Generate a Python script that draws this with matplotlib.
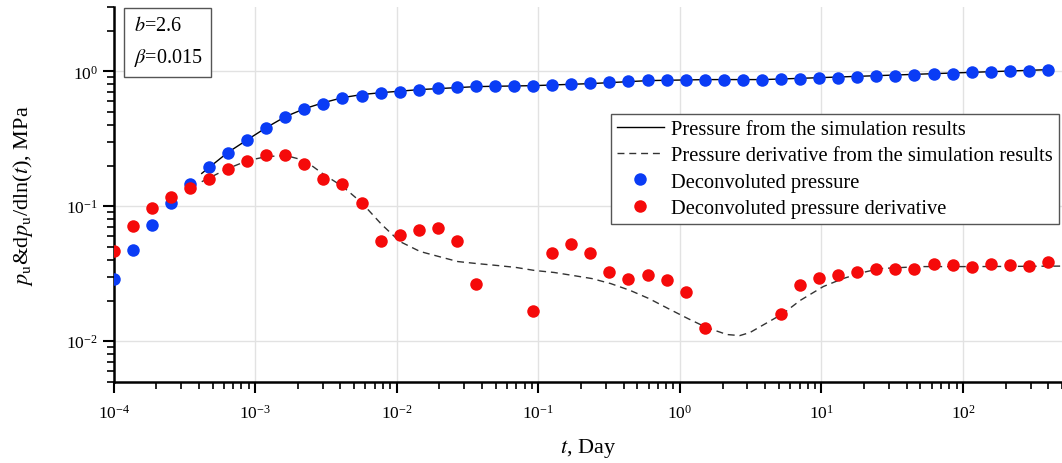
import numpy as np
import matplotlib
matplotlib.use("Agg")
import matplotlib.pyplot as plt
from matplotlib.ticker import LogLocator, NullFormatter

plt.rcParams['font.family'] = ['Liberation Serif', 'DejaVu Serif']
plt.rcParams['mathtext.fontset'] = 'stix'

# deconvolution time grid (day)
t_dec = [1.00e-4, 1.36e-4, 1.86e-4, 2.54e-4, 3.46e-4, 4.72e-4, 6.43e-4, 8.77e-4,
         1.20e-3, 1.63e-3, 2.22e-3, 3.03e-3, 4.13e-3, 5.64e-3, 7.69e-3, 1.05e-2,
         1.43e-2, 1.95e-2, 2.66e-2, 3.62e-2, 4.94e-2, 6.74e-2, 9.19e-2, 0.125,
         0.171, 0.233, 0.318, 0.433, 0.591, 0.806, 1.10, 1.50, 2.04, 2.79, 3.80,
         5.18, 7.07, 9.64, 13.1, 17.9, 24.4, 33.3, 45.4, 62.0, 84.5, 115, 157,
         214, 292, 398]

# deconvoluted pressure (MPa)
p_dec = [0.029, 0.047, 0.073, 0.106, 0.147, 0.194, 0.250, 0.312, 0.383, 0.462,
         0.529, 0.576, 0.638, 0.661, 0.695, 0.707, 0.732, 0.757, 0.770, 0.783,
         0.783, 0.783, 0.783, 0.797, 0.811, 0.825, 0.839, 0.853, 0.868, 0.868,
         0.868, 0.868, 0.868, 0.868, 0.868, 0.883, 0.883, 0.898, 0.898, 0.913,
         0.929, 0.929, 0.945, 0.962, 0.962, 0.995, 0.995, 1.01, 1.01, 1.03]

# deconvoluted pressure derivative (MPa); some grid times have no value
dp_idx = [0, 1, 2, 3, 4, 5, 6, 7, 8, 9, 10, 11, 12, 13, 14, 15, 16, 17, 18, 19,
          22, 23, 24, 25, 26, 27, 28, 29, 30, 31,
          35, 36, 37, 38, 39, 40, 41, 42, 43, 44, 45, 46, 47, 48, 49]
dp_dec = [0.0462, 0.0719, 0.0977, 0.118, 0.137, 0.160, 0.190, 0.218, 0.238, 0.238,
          0.207, 0.158, 0.145, 0.106, 0.0557, 0.0607, 0.0672, 0.0684, 0.0557, 0.0267,
          0.0166, 0.0454, 0.0529, 0.0454, 0.0323, 0.0291, 0.0307, 0.0282, 0.0233, 0.0126,
          0.0160, 0.0263, 0.0296, 0.0307, 0.0323, 0.0345, 0.0345, 0.0345, 0.0370, 0.0364,
          0.0352, 0.0370, 0.0364, 0.0358, 0.0389]
t_dp = [t_dec[i] for i in dp_idx]

# simulation results
t_sim_p = [4.19e-4, 6.4e-4, 8.85e-4, 1.2e-3, 1.64e-3, 2.24e-3, 3.05e-3, 4.15e-3,
           5.66e-3, 7.84e-3, 1.46e-2, 3.67e-2, 9.44e-2, 0.239, 0.604, 1.55, 3.93,
           10.1, 25.5, 65.5, 166, 419]
p_sim = [0.175, 0.250, 0.312, 0.383, 0.462, 0.529, 0.586, 0.638, 0.672, 0.695,
         0.732, 0.770, 0.783, 0.811, 0.853, 0.868, 0.868, 0.898, 0.929, 0.962,
         0.995, 1.03]

t_sim_dp = [4.19e-4, 6.4e-4, 8.85e-4, 1.2e-3, 1.64e-3, 2.24e-3, 3.05e-3, 4.15e-3,
            5.66e-3, 7.84e-3, 1.05e-2, 1.46e-2, 1.98e-2, 2.70e-2, 3.67e-2, 5.09e-2,
            6.93e-2, 9.44e-2, 0.129, 0.175, 0.239, 0.325, 0.444, 0.604, 0.822,
            1.14, 1.55, 2.15, 2.65, 3.13, 3.93, 5.35, 7.05, 10.3, 14.2, 19.6, 25.9,
            49.7, 125, 485]
dp_sim = [0.152, 0.190, 0.218, 0.233, 0.238, 0.218, 0.172, 0.140, 0.106, 0.073,
          0.0548, 0.0462, 0.0424, 0.0389, 0.0376, 0.0364, 0.0352, 0.0334, 0.0323,
          0.0307, 0.0291, 0.0267, 0.0238, 0.0207, 0.0175, 0.0147, 0.0126, 0.0112,
          0.0110, 0.0116, 0.0133, 0.0160, 0.0200, 0.0254, 0.0291, 0.0323, 0.0345,
          0.0357, 0.0357, 0.0360]

fig = plt.figure(figsize=(10.62, 4.64), dpi=100)
ax = fig.add_axes([0.107, 0.175, 0.893, 0.808])

ax.plot(t_sim_p, p_sim, color='black', lw=1.0, zorder=3,
        label='Pressure from the simulation results')
ax.plot(t_sim_dp, dp_sim, color='#333333', lw=1.0, ls=(0, (5, 3.5)), zorder=3,
        label='Pressure derivative from the simulation results')
ax.plot(t_dec, p_dec, 'o', color='#0a3cf5', ms=9, mew=0, zorder=4,
        label='Deconvoluted pressure')
ax.plot(t_dp, dp_dec, 'o', color='#f50a0a', ms=9, mew=0, zorder=4,
        label='Deconvoluted pressure derivative')

ax.set_xscale('log')
ax.set_yscale('log')
ax.set_xlim(1e-4, 500)
ax.set_ylim(0.005, 3)

ax.xaxis.set_major_locator(LogLocator(base=10, numticks=20))
ax.xaxis.set_minor_locator(LogLocator(base=10, subs=np.arange(2, 10), numticks=100))
ax.xaxis.set_minor_formatter(NullFormatter())
ax.yaxis.set_major_locator(LogLocator(base=10, numticks=20))
ax.yaxis.set_minor_locator(LogLocator(base=10, subs=np.arange(2, 10), numticks=100))
ax.yaxis.set_minor_formatter(NullFormatter())

ax.grid(True, which='major', color='#e2e2e2', lw=1.0)
ax.set_axisbelow(True)
ax.spines['top'].set_visible(False)
ax.spines['right'].set_visible(False)
ax.spines['left'].set_linewidth(1.8)
ax.spines['bottom'].set_linewidth(1.8)
ax.tick_params(which='major', direction='out', length=8, width=1.5, labelsize=12.5)
ax.tick_params(axis='x', which='major', pad=8)
ax.tick_params(which='minor', direction='out', length=5, width=1.2)

ax.set_xlabel(r'$t$, Day', fontsize=16, labelpad=10)
ax.set_ylabel(r'$p_\mathrm{u}$&d$p_\mathrm{u}$/dln($t$), MPa', fontsize=16, labelpad=22)

ax.text(0.021, 0.975, '$b$=2.6\n$\\beta$=0.015', transform=ax.transAxes,
        fontsize=14.5, va='top', ha='left', linespacing=1.65,
        bbox=dict(boxstyle='square,pad=0.45', fc='white', ec='#555555', lw=1.0))

leg = ax.legend(loc='upper right', bbox_to_anchor=(0.997, 0.715), fontsize=14.8,
                frameon=True, fancybox=False, edgecolor='#555555', framealpha=1,
                handlelength=2.3, labelspacing=0.33, borderpad=0.3,
                handletextpad=0.35, borderaxespad=0)
leg.get_frame().set_linewidth(1.0)

fig.savefig('out.png', dpi=100)
